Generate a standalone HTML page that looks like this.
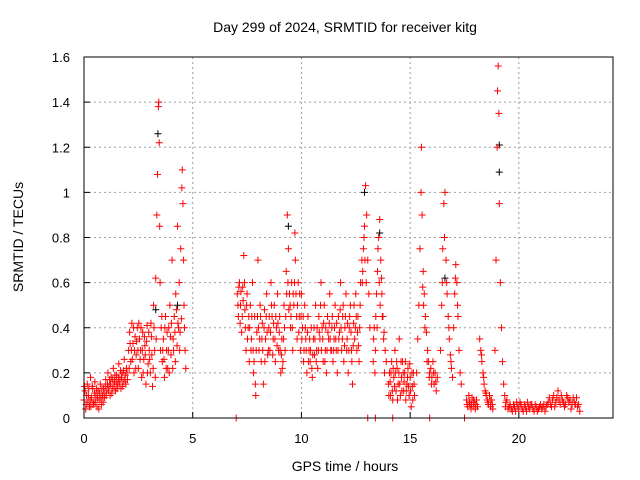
<!DOCTYPE html>
<html><head><meta charset="utf-8"><style>
html,body{margin:0;padding:0;background:#fff;}
svg{display:block;font-family:"Liberation Sans",sans-serif;}
</style></head><body>
<svg id="chart" width="640" height="480" viewBox="0 0 640 480" xmlns="http://www.w3.org/2000/svg">
<text x="345" y="32" font-size="14" text-anchor="middle">Day 299 of 2024, SRMTID for receiver kitg</text>
<text x="345" y="471" font-size="14" text-anchor="middle">GPS time / hours</text>
<text transform="translate(23,237) rotate(-90)" font-size="14" text-anchor="middle">SRMTID / TECUs</text>
<g id="grid"></g>
<g id="ticks"></g>
<g id="marks"></g>
<rect x="84" y="57" width="529" height="361" fill="none" stroke="#000" stroke-width="1"/>
</svg>
<script>
const xTicks=[0,5,10,15,20];
const yTicks=[0,0.2,0.4,0.6,0.8,1,1.2,1.4,1.6];
const yTickLabels=["0","0.2","0.4","0.6","0.8","1","1.2","1.4","1.6"];
const blackPoints=[[3.4,1.26],[19.1,1.21],[19.1,1.09],[9.4,0.85],[12.9,1.0],[4.3,0.5],[13.6,0.82],[16.6,0.62],[3.3,0.48]];
const redPoints=[
[0.0,.08],[0.05,.12],[0.1,.06],[0.15,.15],[0.2,.1],[0.25,.05],[0.3,.18],[0.35,.09],[0.4,.13],[0.45,.07],[0.5,.16],[0.55,.1],[0.6,.05],[0.65,.12],[0.7,.08],[0.75,.15],[0.8,.06],[0.85,.1],[0.9,.13],[0.95,.09],[1.0,.17],[1.05,.12],[1.1,.2],[1.15,.14],[1.2,.1],[1.25,.18],[1.3,.13],[1.35,.22],[1.4,.16],[1.45,.12],[1.5,.19],[1.55,.15],[1.6,.24],[1.65,.17],[1.7,.13],[1.75,.2],[1.8,.16],[1.85,.26],[1.9,.19],[1.95,.22],[2.0,.17],
[2.05,.3],[2.1,.38],[2.15,.25],[2.2,.42],[2.25,.33],[2.3,.2],[2.35,.36],[2.4,.28],[2.45,.4],[2.5,.22],[2.55,.35],[2.6,.3],[2.65,.18],[2.7,.38],[2.75,.26],[2.8,.32],[2.85,.15],[2.9,.41],[2.95,.24],[3.0,.3],[3.05,.2],[3.1,.36],[3.15,.14],[3.2,.5],[3.25,.3],[3.3,.62],[3.35,.9],[3.38,1.08],[3.42,1.38],[3.44,1.4],[3.46,1.22],[3.48,.85],[3.5,.6],[3.55,.4],[3.6,.25],[3.65,.35],[3.7,.18],[3.75,.45],[3.8,.3],[3.85,.22],[3.9,.4],[3.95,.5],[4.0,.28],[4.05,.7],[4.1,.35],[4.15,.45],[4.2,.25],[4.25,.48],[4.3,.85],[4.35,.4],[4.4,.3],[4.45,.75],[4.5,1.02],[4.52,1.1],[4.55,.95],[4.6,.5],[4.65,.3],[4.68,.22],
[7.05,.55],[7.1,.45],[7.15,.6],[7.2,.5],[7.25,.38],[7.3,.58],[7.35,.72],[7.4,.48],[7.45,.3],[7.5,.55],[7.55,.4],[7.6,.25],[7.65,.5],[7.7,.35],[7.75,.6],[7.8,.2],[7.85,.45],[7.9,.1],[7.95,.38],[8.0,.7],[8.05,.3],[8.1,.5],[8.15,.25],[8.2,.42],[8.25,.15],[8.3,.48],[8.35,.35],[8.4,.55],[8.45,.28],[8.5,.4],[8.55,.3],[8.6,.6],[8.65,.45],[8.7,.35],[8.75,.5],[8.8,.25],[8.85,.4],[8.9,.55],[8.95,.3],[9.0,.45],[9.05,.2],[9.1,.35],[9.15,.25],[9.2,.5],[9.25,.3],[9.3,.65],[9.35,.9],[9.4,.75],[9.45,.55],[9.5,.4],[9.55,.6],[9.6,.3],[9.65,.5],[9.7,.82],[9.75,.55],[9.8,.35],[9.85,.6],[9.9,.45],[9.95,.3],[10.0,.55],[10.05,.4],[10.1,.25],[10.15,.5],[10.2,.35],[10.25,.2],[10.3,.45],[10.35,.3],[10.4,.25],[10.45,.4],[10.5,.18],[10.55,.35],[10.6,.28],[10.65,.5],[10.7,.3],[10.75,.22],[10.8,.45],[10.85,.35],[10.9,.6],[10.95,.4],[11.0,.25],[11.05,.5],[11.1,.3],[11.15,.2],[11.2,.45],[11.25,.35],[11.3,.55],[11.35,.3],[11.4,.4],[11.45,.25],[11.5,.35],[11.55,.5],[11.6,.3],[11.65,.2],[11.7,.45],[11.75,.38],[11.8,.6],[11.85,.3],[11.9,.45],[11.95,.25],[12.0,.4],[12.05,.55],[12.1,.35],[12.15,.2],[12.2,.4],[12.25,.5],[12.3,.3],[12.35,.15],[12.4,.42],[12.45,.35],[12.5,.55],[12.55,.3],[12.6,.45],[12.65,.25],[12.7,.5],
[12.8,.6],[12.85,.75],[12.9,.85],[12.95,1.03],[13.0,.9],[13.05,.7],[13.1,.55],[13.15,.4],
[13.3,.25],[13.35,.4],[13.4,.3],[13.45,.55],[13.5,.65],[13.55,.8],[13.6,.88],[13.65,.7],[13.7,.55],[13.75,.45],[13.8,.38],[13.85,.3],[13.9,.25],
[14.0,.15],[14.05,.2],[14.1,.1],[14.15,.25],[14.2,.08],[14.25,.18],[14.3,.3],[14.35,.12],[14.4,.22],[14.45,.15],[14.5,.35],[14.55,.1],[14.6,.18],[14.65,.25],[14.7,.12],[14.75,.2],[14.8,.08],[14.85,.15],[14.9,.22],[14.95,.1],[15.0,.18],[15.05,.05],[15.1,.14],[15.15,.2],[15.2,.1],
[15.3,.2],[15.35,.35],[15.4,.5],[15.45,.75],[15.5,1.0],[15.52,1.2],[15.55,.9],[15.6,.65],[15.65,.55],[15.7,.45],[15.75,.38],[15.8,.3],[15.85,.25],[15.9,.2],[15.95,.22],[16.0,.18],[16.05,.25],[16.1,.15],[16.15,.2],[16.2,.12],[16.25,.18],
[16.4,.3],[16.45,.5],[16.5,.75],[16.55,.95],[16.6,1.0],[16.65,.7],[16.7,.55],[16.75,.45],[16.8,.35],[16.85,.28],[16.9,.22],[16.95,.18],
[17.0,.4],[17.05,.55],[17.1,.68],[17.15,.6],[17.2,.45],[17.25,.3],[17.3,.2],[17.35,.15],
[17.6,.08],[17.65,.05],[17.7,.1],[17.75,.06],[17.8,.04],[17.85,.09],[17.9,.05],[17.95,.07],[18.0,.04],[18.05,.08],[18.1,.05],
[18.2,.35],[18.25,.3],[18.3,.25],[18.35,.2],[18.4,.15],[18.45,.12],[18.5,.1],[18.55,.08],[18.6,.06],[18.65,.1],[18.7,.05],[18.75,.08],[18.8,.04],
[18.9,.3],[18.95,.7],[19.0,1.2],[19.02,1.45],[19.05,1.56],[19.08,1.35],[19.1,.95],[19.15,.6],[19.2,.4],[19.25,.25],[19.3,.15],[19.35,.1],
[19.4,.07],[19.5,.04],[19.6,.06],[19.7,.03],[19.8,.05],[19.9,.07],[20.0,.04],[20.1,.06],[20.2,.03],[20.3,.05],[20.4,.07],[20.5,.04],[20.6,.06],[20.7,.03],[20.8,.05],[20.9,.04],[21.0,.06],[21.1,.05],[21.2,.03],[21.3,.06],[21.4,.09],[21.5,.05],[21.6,.1],[21.7,.07],[21.8,.12],[21.9,.06],[22.0,.08],[22.1,.05],[22.2,.1],[22.3,.07],[22.4,.04],[22.5,.09],[22.6,.06],[22.7,.05],[22.8,.03],
[7.0,0],[13.05,0],[13.4,0],[14.2,0],[15.9,0],[17.5,0]
];
const redPointsExtra=[
[0.02,.14],[0.08,.04],[0.12,.1],[0.18,.07],[0.22,.13],[0.28,.08],[0.32,.05],[0.38,.14],[0.42,.06],[0.48,.11],[0.52,.07],[0.58,.13],[0.62,.09],[0.68,.04],[0.72,.11],[0.78,.09],[0.82,.13],[0.88,.07],[0.92,.11],[0.98,.14],[1.02,.1],[1.08,.15],[1.12,.12],[1.18,.17],[1.22,.15],[1.28,.11],[1.32,.17],[1.38,.14],[1.42,.19],[1.48,.16],[1.52,.13],[1.58,.18],[1.62,.15],[1.68,.21],[1.72,.18],[1.78,.14],[1.82,.21],[1.88,.17],[1.92,.15],[1.98,.2],
[2.08,.22],[2.12,.33],[2.18,.3],[2.22,.26],[2.28,.4],[2.32,.3],[2.38,.22],[2.42,.34],[2.48,.3],[2.52,.42],[2.58,.26],[2.62,.4],[2.68,.3],[2.72,.2],[2.78,.36],[2.82,.28],[2.88,.34],[2.92,.2],[2.98,.38],[3.02,.26],[3.08,.42],[3.12,.28],[3.18,.22],[3.22,.4],[3.28,.18],[3.32,.35],[3.52,.3],[3.58,.45],[3.62,.3],[3.68,.26],[3.72,.4],[3.78,.22],[3.82,.38],[3.88,.3],[3.92,.2],[3.98,.36],[4.02,.42],[4.08,.22],[4.12,.3],[4.18,.38],[4.22,.55],[4.28,.32],[4.32,.42],[4.38,.6],[4.42,.38],[4.48,.44],[4.58,.7],[4.62,.4],
[7.08,.5],[7.12,.58],[7.18,.42],[7.22,.56],[7.28,.45],[7.32,.52],[7.38,.6],[7.42,.4],[7.48,.5],[7.52,.35],[7.58,.45],[7.62,.4],[7.68,.3],[7.72,.45],[7.78,.3],[7.82,.25],[7.88,.15],[7.92,.3],[7.98,.45],[8.02,.4],[8.08,.35],[8.12,.45],[8.18,.35],[8.22,.3],[8.28,.4],[8.32,.25],[8.38,.45],[8.42,.38],[8.48,.3],[8.52,.45],[8.58,.38],[8.62,.5],[8.68,.28],[8.72,.42],[8.78,.35],[8.82,.45],[8.88,.32],[8.92,.42],[8.98,.38],[9.02,.3],[9.08,.28],[9.12,.22],[9.18,.35],[9.22,.4],[9.28,.45],[9.32,.55],[9.38,.6],[9.42,.48],[9.48,.5],[9.52,.45],[9.58,.4],[9.62,.55],[9.68,.6],[9.72,.7],[9.78,.45],[9.82,.5],[9.88,.38],[9.92,.55],[9.98,.45],[10.02,.35],[10.08,.45],[10.12,.3],[10.18,.4],[10.22,.3],[10.28,.38],[10.32,.25],[10.38,.35],[10.42,.3],[10.48,.22],[10.52,.28],[10.58,.4],[10.62,.35],[10.68,.25],[10.72,.4],[10.78,.3],[10.82,.38],[10.88,.5],[10.92,.3],[10.98,.35],[11.02,.42],[11.08,.25],[11.12,.4],[11.18,.3],[11.22,.38],[11.28,.42],[11.32,.35],[11.38,.3],[11.42,.45],[11.48,.3],[11.52,.4],[11.58,.35],[11.62,.42],[11.68,.3],[11.72,.35],[11.78,.48],[11.82,.4],[11.88,.35],[11.92,.5],[11.98,.32],[12.02,.45],[12.08,.3],[12.12,.42],[12.18,.3],[12.22,.45],[12.28,.38],[12.32,.25],[12.38,.32],[12.42,.5],[12.48,.4],[12.52,.45],[12.58,.38],[12.62,.32],[12.68,.4],[12.72,.6],[12.78,.7],[12.82,.65],[12.88,.8],[12.92,.7],[12.98,.6],
[13.32,.35],[13.38,.2],[13.42,.45],[13.48,.4],[13.52,.75],[13.58,.6],[13.62,.5],[13.68,.62],[13.72,.45],[13.78,.35],[13.82,.2],
[14.02,.1],[14.08,.16],[14.12,.2],[14.18,.12],[14.22,.22],[14.28,.14],[14.32,.2],[14.38,.25],[14.42,.08],[14.48,.2],[14.52,.15],[14.58,.25],[14.62,.12],[14.68,.2],[14.72,.16],[14.78,.25],[14.82,.12],[14.88,.18],[14.92,.14],[14.98,.24],[15.02,.12],[15.08,.2],[15.12,.08],[15.18,.15],
[15.58,.58],[15.62,.5],[15.68,.4],[15.78,.25],[15.88,.18],[15.98,.15],[16.08,.2],[16.18,.16],[16.48,.6],[16.58,.8],[16.68,.6],[16.78,.4],[16.88,.25],[17.08,.62],[17.18,.5],
[17.62,.06],[17.72,.07],[17.82,.06],[17.92,.08],[18.02,.06],[18.28,.28],[18.38,.18],[18.48,.11],[18.58,.07],[18.68,.08],[18.78,.06],
[19.38,.05],[19.45,.08],[19.55,.05],[19.65,.04],[19.75,.06],[19.85,.03],[19.95,.05],[20.05,.07],[20.15,.04],[20.25,.06],[20.35,.03],[20.45,.05],[20.55,.06],[20.65,.04],[20.75,.06],[20.85,.03],[20.95,.05],[21.05,.04],[21.15,.06],[21.25,.05],[21.35,.07],[21.45,.06],[21.55,.08],[21.65,.05],[21.75,.09],[21.85,.08],[21.95,.1],[22.05,.07],[22.15,.06],[22.25,.09],[22.35,.08],[22.45,.06],[22.55,.07],[22.65,.09],[22.75,.06]
];
const X0=84,X1=613,Y0=418,Y1=57,XMAX=24.33,YMAX=1.6;
function xs(t){return X0+(X1-X0)*t/XMAX;}
function ys(v){return Y0-(Y0-Y1)*v/YMAX;}
const NS="http://www.w3.org/2000/svg";
const grid=document.getElementById('grid'),ticks=document.getElementById('ticks'),marks=document.getElementById('marks');
function mk(tag,attrs,parent){const e=document.createElementNS(NS,tag);for(const k in attrs)e.setAttribute(k,attrs[k]);parent.appendChild(e);return e;}
xTicks.forEach(t=>{
  const x=xs(t);
  if(t>0){const g=mk('line',{x1:x,x2:x,y1:Y1,y2:Y0,stroke:'#a0a0a0','stroke-dasharray':'2,3'},grid);
  
  }
  const l=mk('text',{x:x,y:443,'font-size':13,'text-anchor':'middle'},ticks);
  l.textContent=String(t);
  
  
  mk('line',{x1:x,x2:x,y1:Y0,y2:Y0-6,stroke:'#000'},ticks);
});
yTicks.forEach((v,i)=>{
  const y=ys(v);
  if(v>0&&v<YMAX){const g=mk('line',{x1:X0,x2:X1,y1:y,y2:y,stroke:'#a0a0a0','stroke-dasharray':'2,3'},grid);
  
  }
  const l=mk('text',{x:70,y:y+5,'font-size':13,'text-anchor':'end'},ticks);
  l.textContent=yTickLabels[i];
  
  
  mk('line',{x1:X0,x2:X0+6,y1:y,y2:y,stroke:'#000'},ticks);
});
function plus(t,v,color){
  const x=xs(t),y=ys(v);
  return mk('path',{d:`M${x-3.5},${y}H${x+3.5}M${x},${y-3.5}V${y+3.5}`,stroke:color,'stroke-width':1,fill:'none'},marks);
}
blackPoints.forEach(p=>{const e=plus(p[0],p[1],'#000');
  
  });
redPoints.forEach(p=>{const e=plus(p[0],p[1],'#ff0000');
  
  });
redPointsExtra.forEach(p=>{const e=plus(p[0],p[1],'#ff0000');
  
  });
</script>
</body></html>
